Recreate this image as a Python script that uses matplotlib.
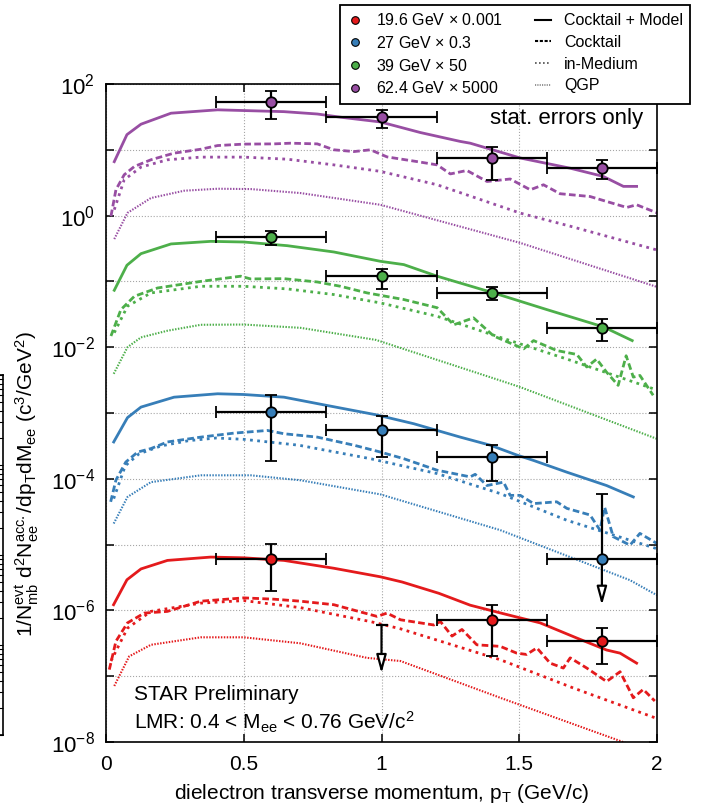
import numpy as np
import matplotlib
matplotlib.use("Agg")
import matplotlib.pyplot as plt
from matplotlib.ticker import FixedLocator, FuncFormatter, NullLocator, LogLocator

plt.rcParams['font.family'] = ['Liberation Sans', 'DejaVu Sans']
plt.rcParams['mathtext.fontset'] = 'custom'
plt.rcParams['mathtext.rm'] = 'Liberation Sans'
plt.rcParams['mathtext.it'] = 'Liberation Sans:italic'
plt.rcParams['mathtext.default'] = 'regular'
plt.rcParams['axes.unicode_minus'] = False

# colours (19.6, 27, 39, 62.4 GeV)
c_red, c_blue, c_green, c_purple = '#e41a1c', '#377eb8', '#4daf4a', '#984ea3'

# ---------------- model curves (already scaled) ----------------
# 62.4 GeV x 5000
pur_solid_x = [0.03, 0.076, 0.127, 0.236, 0.405, 0.5, 0.646, 0.767, 0.851, 0.996, 1.141, 1.286, 1.322, 1.504, 1.685, 1.805, 1.878, 1.926]
pur_solid_y = [6.6, 17, 24.5, 36, 40.5, 39.5, 38, 35, 31.3, 26.5, 18.3, 13.4, 12.6, 7.5, 5.25, 3.94, 2.78, 2.78]
pur_cock_x = [0.018, 0.036, 0.066, 0.103, 0.163, 0.247, 0.344, 0.405, 0.5, 0.61, 0.67, 0.767, 0.827, 0.9, 0.96, 1.02, 1.141, 1.202, 1.25, 1.31, 1.383, 1.467, 1.54, 1.588, 1.648, 1.757, 1.817, 1.89, 1.926, 2.0]
pur_cock_y = [0.98, 2.47, 4.17, 5.58, 7.05, 8.9, 10.2, 11.6, 12.2, 12.3, 12.6, 12.3, 10.0, 9.4, 10.0, 7.8, 6.5, 5.9, 4.3, 4.85, 3.3, 3.6, 2.47, 2.94, 2.15, 1.95, 1.64, 1.33, 1.46, 1.1]
pur_med_x = [0.03, 0.066, 0.127, 0.223, 0.344, 0.5, 0.658, 0.827, 0.996, 1.202, 1.504, 1.685, 2.0]
pur_med_y = [1.23, 3.5, 5.46, 7.05, 7.74, 7.74, 7.2, 5.9, 4.7, 2.94, 1.09, 0.69, 0.30]
pur_qgp_x = [0.03, 0.078, 0.163, 0.284, 0.405, 0.525, 0.706, 0.996, 1.504, 2.0]
pur_qgp_y = [0.44, 1.1, 1.85, 2.39, 2.56, 2.53, 2.2, 1.46, 0.384, 0.0824]

# 39 GeV x 50
grn_solid_x = [0.03, 0.076, 0.127, 0.236, 0.38, 0.5, 0.658, 0.827, 0.996, 1.081, 1.202, 1.407, 1.6, 1.805, 1.91]
grn_solid_y = [0.0733, 0.176, 0.264, 0.371, 0.406, 0.397, 0.349, 0.28, 0.202, 0.18, 0.12, 0.0668, 0.0373, 0.0204, 0.0126]
grn_cock_x = [0.018, 0.054, 0.103, 0.187, 0.344, 0.489, 0.525, 0.646, 0.767, 0.851, 0.948, 1.081, 1.202, 1.262, 1.334, 1.407, 1.516, 1.552, 1.636, 1.709, 1.745, 1.781, 1.817, 1.859, 1.888, 1.914, 1.938, 1.986]
grn_cock_y = [0.0148, 0.0372, 0.0594, 0.0794, 0.1, 0.12, 0.109, 0.11, 0.098, 0.0843, 0.0668, 0.053, 0.0398, 0.0219, 0.0279, 0.0148, 0.00944, 0.0126, 0.0089, 0.00776, 0.005, 0.0066, 0.00417, 0.00263, 0.00741, 0.00351, 0.00372, 0.00186]
grn_med_x = [0.03, 0.078, 0.163, 0.344, 0.5, 0.658, 0.827, 0.996, 1.202, 1.431, 1.673, 1.986]
grn_med_y = [0.0166, 0.042, 0.0668, 0.0843, 0.0843, 0.0769, 0.0631, 0.0471, 0.0295, 0.0141, 0.0066, 0.00234]
grn_qgp_x = [0.028, 0.078, 0.127, 0.223, 0.344, 0.5, 0.706, 0.98, 1.431, 1.504, 1.998]
grn_qgp_y = [0.00394, 0.01, 0.0141, 0.0178, 0.0219, 0.0221, 0.0197, 0.0129, 0.00312, 0.00247, 0.000407]

# 27 GeV x 0.3
blu_solid_x = [0.028, 0.078, 0.127, 0.247, 0.405, 0.5, 0.646, 0.803, 0.98, 1.117, 1.286, 1.395, 1.491, 1.552, 1.673, 1.817, 1.914]
blu_solid_y = [3.63e-4, 8.5e-4, 1.23e-3, 1.74e-3, 1.96e-3, 1.91e-3, 1.74e-3, 1.30e-3, 9.4e-4, 6.87e-4, 4.3e-4, 3.24e-4, 2.3e-4, 1.9e-4, 1.26e-4, 7.9e-5, 5.3e-5]
blu_cock_x = [0.017, 0.036, 0.072, 0.115, 0.163, 0.223, 0.344, 0.465, 0.586, 0.646, 0.767, 0.9, 0.996, 1.081, 1.202, 1.322, 1.34, 1.383, 1.443, 1.467, 1.504, 1.552, 1.636, 1.673, 1.757, 1.793, 1.81, 1.841, 1.902, 1.938, 1.998]
blu_cock_y = [4.47e-5, 9.55e-5, 1.8e-4, 2.55e-4, 2.88e-4, 3.63e-4, 4.3e-4, 4.95e-4, 5.43e-4, 4.84e-4, 4.3e-4, 3.24e-4, 2.55e-4, 2.02e-4, 1.35e-4, 1.07e-4, 1.17e-4, 7.9e-5, 8.9e-5, 5.6e-5, 5.6e-5, 4.2e-5, 4.47e-5, 3.55e-5, 2.82e-5, 1.66e-5, 3.7e-5, 1.32e-5, 9.8e-6, 1.48e-5, 1.05e-5]
blu_med_x = [0.028, 0.07, 0.12, 0.2, 0.3, 0.4, 0.5, 0.7, 0.96, 1.202, 1.431, 1.673, 1.998]
blu_med_y = [5e-5, 1.58e-4, 2.4e-4, 3.16e-4, 3.8e-4, 4.17e-4, 3.98e-4, 3.24e-4, 2.02e-4, 1.2e-4, 5.96e-5, 2.34e-5, 8.7e-6]
blu_qgp_x = [0.028, 0.078, 0.163, 0.344, 0.525, 0.706, 0.996, 1.431, 1.902, 2.0]
blu_qgp_y = [2.09e-5, 5.3e-5, 8.9e-5, 1.13e-4, 1.13e-4, 9.5e-5, 5.8e-5, 1.66e-5, 2.88e-6, 1.7e-6]

# 19.6 GeV x 0.001
red_solid_x = [0.0275, 0.076, 0.127, 0.223, 0.38, 0.5, 0.646, 0.827, 0.996, 1.075, 1.208, 1.322, 1.443, 1.576, 1.709, 1.817, 1.866, 1.926]
red_solid_y = [1.22e-6, 2.92e-6, 4.27e-6, 5.75e-6, 6.46e-6, 6.3e-6, 5.75e-6, 4.37e-6, 3.24e-6, 2.7e-6, 1.82e-6, 1.2e-6, 8.9e-7, 6.46e-7, 3.8e-7, 2.5e-7, 2.24e-7, 1.58e-7]
red_cock_x = [0.012, 0.036, 0.078, 0.139, 0.223, 0.344, 0.5, 0.61, 0.706, 0.827, 0.984, 1.02, 1.069, 1.19, 1.214, 1.256, 1.292, 1.346, 1.431, 1.491, 1.527, 1.564, 1.612, 1.66, 1.685, 1.745, 1.817, 1.866, 1.914, 1.95, 1.992]
red_cock_y = [1.26e-7, 3.39e-7, 6.46e-7, 9.1e-7, 9.66e-7, 1.38e-6, 1.55e-6, 1.48e-6, 1.38e-6, 1.22e-6, 8.1e-7, 9.1e-7, 7.2e-7, 6.0e-7, 6.76e-7, 4.07e-7, 5.13e-7, 3.0e-7, 2.84e-7, 2.24e-7, 2.14e-7, 2.69e-7, 1.58e-7, 1.33e-7, 1.9e-7, 1.33e-7, 8.3e-8, 1.17e-7, 4.7e-8, 6.3e-8, 4.2e-8]
red_med_x = [0.018, 0.078, 0.163, 0.344, 0.5, 0.706, 0.96, 1.069, 1.431, 1.697, 1.992]
red_med_y = [1.7e-7, 5.37e-7, 9.66e-7, 1.29e-6, 1.41e-6, 1.1e-6, 6.76e-7, 5.25e-7, 1.78e-7, 6.6e-8, 2.34e-8]
red_qgp_x = [0.03, 0.084, 0.163, 0.344, 0.5, 0.706, 0.947, 1.069, 1.431, 1.871, 1.95]
red_qgp_y = [7.1e-8, 2.0e-7, 3.0e-7, 3.9e-7, 3.9e-7, 3.16e-7, 1.9e-7, 1.7e-7, 4.7e-8, 1.02e-8, 7.6e-9]

# ---------------- data points (scaled) ----------------
pt_bins = [0.6, 1.0, 1.4, 1.8]
pt_halfwidth = 0.2
pur_pts = [54, 31.3, 7.5, 5.27]
pur_lo = [29.5, 21.3, 3.5, 3.63]
pur_hi = [79, 40.4, 11.2, 6.9]
grn_pts = [0.473, 0.1197, 0.0668, 0.0197]
grn_lo = [0.353, 0.077, 0.0517, 0.0126]
grn_hi = [0.577, 0.156, 0.0824, 0.0272]
blu_pts_x = [0.6, 1.0, 1.4, 1.8]
blu_pts = [1.03e-3, 5.43e-4, 2.14e-4, 6.1e-6]
blu_lo = [1.84e-4, 2.14e-4, 9.1e-5, 6.1e-6]
blu_hi = [1.89e-3, 8.87e-4, 3.3e-4, 5.8e-5]
red_pts_x = [0.6, 1.4, 1.8]
red_pts = [6.1e-6, 7.05e-7, 3.39e-7]
red_lo = [2.0e-6, 2.0e-7, 1.53e-7]
red_hi = [1.03e-5, 1.22e-6, 5.4e-7]
# upper limits: (pT, start, arrow tip)
blu_limit = (1.8, 6.1e-6, 1.2e-6)
red_limit = (1.0, 6.05e-7, 1.1e-7)

fig = plt.figure(figsize=(7.02, 8.08), dpi=100)
ax = fig.add_axes([106/702, 1-742/808, 551/702, 658/808])

ls_solid = dict(ls='-', lw=2.0)
ls_cock = dict(ls=(0, (2.4, 1.2)), lw=2.0)
ls_med = dict(ls=(0, (1, 1.6)), lw=2.0)
ls_qgp = dict(ls=(0, (0.7, 0.7)), lw=1.5)

curves = [
    (c_purple, pur_solid_x, pur_solid_y, pur_cock_x, pur_cock_y, pur_med_x, pur_med_y, pur_qgp_x, pur_qgp_y),
    (c_green, grn_solid_x, grn_solid_y, grn_cock_x, grn_cock_y, grn_med_x, grn_med_y, grn_qgp_x, grn_qgp_y),
    (c_blue, blu_solid_x, blu_solid_y, blu_cock_x, blu_cock_y, blu_med_x, blu_med_y, blu_qgp_x, blu_qgp_y),
    (c_red, red_solid_x, red_solid_y, red_cock_x, red_cock_y, red_med_x, red_med_y, red_qgp_x, red_qgp_y),
]
for col, sx, sy, cx, cy, mx, my, qx, qy in curves:
    ax.plot(qx, qy, color=col, **ls_qgp)
    ax.plot(mx, my, color=col, **ls_med)
    ax.plot(cx, cy, color=col, **ls_cock)
    ax.plot(sx, sy, color=col, **ls_solid)

eb = dict(fmt='o', ms=7.5, mec='k', mew=1.3, ecolor='k', elinewidth=1.6,
          capsize=4, capthick=1.6, zorder=5)
sets = [
    (c_purple, pt_bins, pur_pts, pur_lo, pur_hi),
    (c_green, pt_bins, grn_pts, grn_lo, grn_hi),
    (c_blue, blu_pts_x, blu_pts, blu_lo, blu_hi),
    (c_red, red_pts_x, red_pts, red_lo, red_hi),
]
for col, x, y, lo, hi in sets:
    y = np.array(y)
    yerr = [y - np.array(lo), np.array(hi) - y]
    ax.errorbar(x, y, xerr=pt_halfwidth, yerr=yerr, mfc=col, **eb)

for x, start, tip in [blu_limit, red_limit]:
    ax.annotate('', xy=(x, tip), xytext=(x, start),
                arrowprops=dict(arrowstyle='-|>,head_length=1.1,head_width=0.3',
                                fc='white', ec='black', lw=1.6, shrinkA=0, shrinkB=0),
                zorder=4)
ax.plot([red_limit[0]], [red_limit[1]], marker='_', ms=8, mew=1.6, color='k', zorder=5)

ax.set_yscale('log')
ax.set_xlim(0, 2)
ax.set_ylim(1e-8, 1e2)
ax.xaxis.set_major_locator(FixedLocator([0, 0.5, 1, 1.5, 2]))
ax.xaxis.set_major_formatter(FuncFormatter(lambda v, p: '%g' % v))
ax.yaxis.set_major_locator(LogLocator(base=10, numticks=30))
ax.yaxis.set_minor_locator(NullLocator())
ax.yaxis.set_major_formatter(FuncFormatter(
    lambda v, p: r'$10^{%d}$' % round(np.log10(v)) if round(np.log10(v)) % 2 == 0 else ''))
ax.tick_params(axis='both', which='both', direction='in', top=True, right=True,
               length=6, width=1.1)
ax.tick_params(axis='x', labelsize=15, pad=9)
ax.tick_params(axis='y', labelsize=16, pad=8)
ax.grid(True, which='major', ls=':', lw=0.8, color='0.65')
for s in ax.spines.values():
    s.set_linewidth(1.2)

ax.set_xlabel(r'dielectron transverse momentum, p$_{\rm T}$ (GeV/c)', fontsize=15, labelpad=6)
ax.set_ylabel(r'1/N$^{\rm evt}_{\rm mb}$ d$^{2}$N$^{\rm acc.}_{\rm ee}$/dp$_{\rm T}$dM$_{\rm ee}$ (c$^{3}$/GeV$^{2}$)',
              fontsize=15)
ax.yaxis.set_label_coords(-0.118, 0.392)

ax.text(0.975, 0.948, 'stat. errors only', transform=ax.transAxes, ha='right', va='center', fontsize=16)
ax.text(0.05, 0.072, 'STAR Preliminary', transform=ax.transAxes, ha='left', va='center', fontsize=15)
ax.text(0.05, 0.03, r'LMR: 0.4 < M$_{\rm ee}$ < 0.76 GeV/c$^{2}$', transform=ax.transAxes,
        ha='left', va='center', fontsize=15)

# legend
h = []
labels = [r'19.6 GeV $\times$ 0.001', r'27 GeV $\times$ 0.3', r'39 GeV $\times$ 50', r'62.4 GeV $\times$ 5000',
          'Cocktail + Model', 'Cocktail', 'in-Medium', 'QGP']
for col in [c_red, c_blue, c_green, c_purple]:
    h.append(plt.Line2D([], [], ls='none', marker='o', ms=5.5, mfc=col, mec='k', mew=0.8))
h.append(plt.Line2D([], [], color='k', ls='-', lw=1.5))
h.append(plt.Line2D([], [], color='k', ls=(0, (1.5, 0.8)), lw=1.5))
h.append(plt.Line2D([], [], color='0.3', ls=(0, (1, 1.4)), lw=1.2))
h.append(plt.Line2D([], [], color='0.5', ls=(0, (0.7, 0.7)), lw=1.2))
leg = fig.legend(h, labels, ncol=2, loc='upper left', mode='expand',
                 bbox_to_anchor=(340/702, 1-100/808, 350/702, 95/808),
                 borderaxespad=0.0,
                 fontsize=11.5, frameon=True, fancybox=False, framealpha=1,
                 edgecolor='k', handlelength=1.0, handletextpad=0.8,
                 labelspacing=0.42, borderpad=0.45, columnspacing=1.5)
leg.get_frame().set_linewidth(1.3)

# part of a neighbouring panel at the left edge
ax2 = fig.add_axes([3/702 - 0.06, 1-735/808, 0.06, 360/808])
ax2.set_yscale('log')
ax2.set_ylim(1e-3, 1e1)
ax2.set_xticks([])
ax2.tick_params(axis='y', which='both', direction='in', left=False, right=True,
                labelleft=False, length=3, width=0.8)
ax2.tick_params(axis='y', which='major', length=5)
for s in ax2.spines.values():
    s.set_linewidth(1.2)

fig.savefig('out.png', dpi=100)
